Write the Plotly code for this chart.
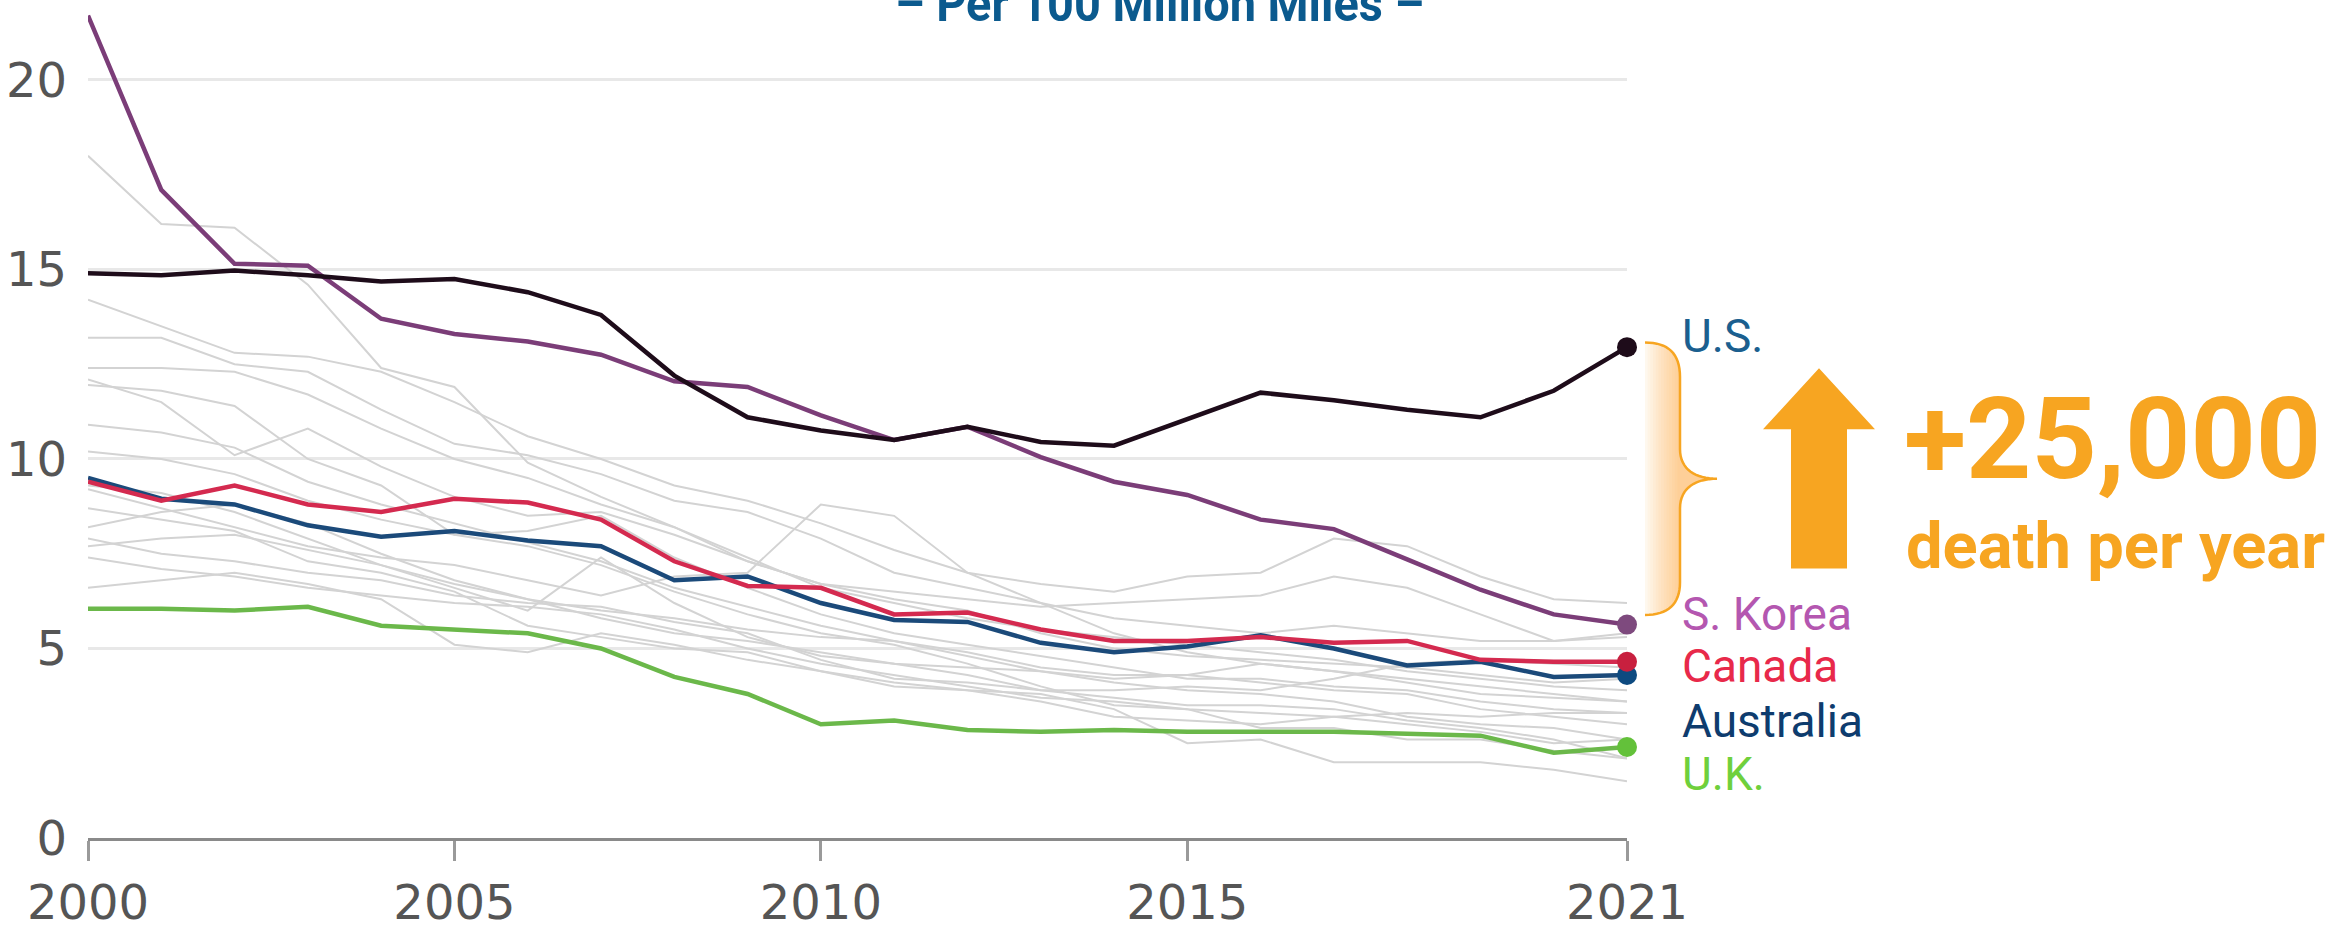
import plotly.graph_objects as go

# ---- data: road deaths per 100 million vehicle miles ----
years = list(range(2000, 2022))

us = [14.9, 14.85, 14.97, 14.85, 14.68, 14.75, 14.4, 13.8, 12.2, 11.1, 10.75,
      10.5, 10.85, 10.45, 10.35, 11.05, 11.75, 11.55, 11.3, 11.1, 11.8, 12.95]
s_korea = [21.7, 17.1, 15.15, 15.1, 13.7, 13.3, 13.1, 12.75, 12.05, 11.9, 11.15,
           10.5, 10.85, 10.05, 9.4, 9.05, 8.4, 8.15, 7.35, 6.55, 5.9, 5.63]
canada = [9.4, 8.9, 9.3, 8.8, 8.6, 8.95, 8.85, 8.4, 7.3, 6.65, 6.6,
          5.9, 5.95, 5.5, 5.2, 5.2, 5.3, 5.15, 5.2, 4.7, 4.65, 4.65]
australia = [9.5, 8.95, 8.8, 8.25, 7.95, 8.1, 7.85, 7.7, 6.8, 6.9, 6.2,
             5.75, 5.7, 5.15, 4.9, 5.05, 5.35, 5.0, 4.55, 4.65, 4.25, 4.3]
uk = [6.05, 6.05, 6.0, 6.1, 5.6, 5.5, 5.4, 5.0, 4.25, 3.8, 3.0,
      3.1, 2.85, 2.8, 2.85, 2.8, 2.8, 2.8, 2.75, 2.7, 2.25, 2.4]

# other comparison countries (background)
others = [
    [18.0, 16.2, 16.1, 14.6, 12.4, 11.9, 9.9, 9.0, 8.2, 7.4, 6.6, 6.2, 5.8, 5.5, 5.3, 5.1, 4.9, 4.7, 4.4, 4.2, 4.0, 3.9],
    [14.2, 13.5, 12.8, 12.7, 12.3, 11.5, 10.6, 10.0, 9.3, 8.9, 8.3, 7.6, 7.0, 6.7, 6.5, 6.9, 7.0, 7.9, 7.7, 6.9, 6.3, 6.2],
    [13.2, 13.2, 12.5, 12.3, 11.3, 10.4, 10.1, 9.6, 8.9, 8.6, 7.9, 7.0, 6.6, 6.2, 5.8, 5.6, 5.4, 5.6, 5.4, 5.2, 5.2, 5.3],
    [12.4, 12.4, 12.3, 11.7, 10.8, 10.0, 9.5, 8.8, 8.2, 7.3, 6.7, 6.3, 6.0, 5.4, 5.0, 4.8, 4.7, 4.6, 4.5, 4.3, 4.1, 4.2],
    [11.95, 11.8, 11.4, 10.0, 9.3, 8.0, 8.1, 8.5, 7.4, 6.6, 5.9, 5.4, 5.1, 4.8, 4.5, 4.2, 4.2, 4.0, 3.9, 3.6, 3.4, 3.3],
    [10.9, 10.7, 10.3, 9.4, 8.8, 8.3, 7.8, 7.3, 6.6, 6.1, 5.6, 5.2, 4.8, 4.4, 4.1, 3.9, 3.8, 3.6, 3.2, 3.0, 2.9, 2.6],
    [9.2, 8.7, 8.2, 7.7, 7.4, 7.2, 6.8, 6.4, 6.9, 7.0, 8.8, 8.5, 7.0, 6.2, 5.4, 4.9, 4.6, 4.4, 4.1, 3.8, 3.7, 3.6],
    [8.2, 8.6, 8.8, 8.3, 7.5, 6.8, 6.3, 6.0, 5.8, 5.5, 5.3, 5.2, 4.9, 4.5, 4.3, 4.3, 4.1, 3.9, 3.8, 3.4, 3.2, 3.0],
    [7.7, 7.9, 8.0, 7.6, 7.2, 6.6, 6.0, 7.4, 6.2, 5.3, 4.8, 4.6, 4.3, 3.9, 3.7, 3.5, 3.5, 3.4, 3.1, 2.9, 2.6, 2.1],
    [7.4, 7.1, 6.9, 6.6, 6.4, 6.2, 6.1, 5.9, 5.5, 5.0, 4.6, 4.3, 4.0, 3.7, 3.6, 3.4, 3.3, 3.2, 3.0, 2.8, 2.5, 2.6],
    [6.6, 6.8, 7.0, 6.7, 6.3, 5.1, 4.9, 5.4, 5.1, 4.7, 4.4, 4.1, 3.9, 3.8, 3.4, 2.5, 2.6, 2.0, 2.0, 2.0, 1.8, 1.5],
    [9.3, 9.1, 8.6, 7.9, 7.2, 6.7, 6.3, 5.8, 5.4, 5.2, 4.9, 4.6, 4.5, 4.4, 4.2, 4.3, 4.6, 4.4, 4.2, 4.0, 3.8, 3.6],
    [10.2, 10.0, 9.6, 8.9, 8.4, 8.0, 7.7, 7.2, 6.5, 5.9, 5.4, 5.1, 4.6, 4.0, 3.5, 3.4, 2.9, 2.9, 2.6, 2.6, 2.3, 2.1],
    [8.7, 8.4, 8.1, 7.3, 7.0, 6.5, 5.6, 5.3, 5.0, 4.9, 4.4, 4.0, 3.9, 3.6, 3.2, 3.1, 3.0, 3.2, 3.3, 3.2, 3.3, 3.3],
    [7.9, 7.5, 7.3, 7.0, 6.8, 6.4, 6.2, 6.1, 5.7, 5.4, 4.7, 4.2, 4.1, 3.9, 3.9, 4.0, 3.9, 4.2, 4.6, 4.7, 4.6, 4.5],
    [12.1, 11.5, 10.1, 10.8, 9.8, 9.0, 8.5, 8.6, 8.0, 7.3, 6.7, 6.5, 6.3, 6.1, 6.2, 6.3, 6.4, 6.9, 6.6, 5.9, 5.2, 5.4],
]

x_ticks = [2000, 2005, 2010, 2015, 2021]
y_ticks = [0, 5, 10, 15, 20]

title_text = "– Per 100 Million Miles –"
callout_value = "+25,000"
callout_caption = "death per year"

# highlighted series: (name, values, line colour, marker colour, label colour)
highlight = [
    ("U.K.", uk, "#6bb84a", "#63c13a", "#6fd03c"),
    ("Australia", australia, "#1b4a7a", "#0d4a80", "#0e3c6e"),
    ("Canada", canada, "#d42a4f", "#c8203f", "#e8294a"),
    ("S. Korea", s_korea, "#7b3d78", "#7e4a7e", "#b457b0"),
    ("U.S.", us, "#1e0c1a", "#1e0c1a", "#1b5f8f"),
]

# ---- geometry (pixels) ----
W, H = 2330, 930
L, R, T, B = 88, 703, 0, 81
PW, PH = W - L - R, H - T - B
Y_MAX = PH / 38.4


def px(x):
    return (x - L) / PW


def py(y):
    return (H - B - y) / PH


fig = go.Figure()

for vals in others:
    fig.add_trace(go.Scatter(x=years, y=vals, mode="lines",
                             line=dict(color="#d3d3d3", width=2),
                             hoverinfo="skip", showlegend=False))

for name, vals, lc, mc, _ in highlight:
    fig.add_trace(go.Scatter(x=years, y=vals, mode="lines", name=name,
                             line=dict(color=lc, width=4.5),
                             showlegend=False))
for name, vals, lc, mc, _ in highlight:
    fig.add_trace(go.Scatter(x=[years[-1]], y=[vals[-1]], mode="markers",
                             marker=dict(color=mc, size=20),
                             cliponaxis=False, showlegend=False,
                             hoverinfo="skip"))

# ---- brace with soft gradient fill ----
def cubic(p0, p1, p2, p3, n=16):
    pts = []
    for i in range(n + 1):
        t = i / n
        a, b, c, d = (1 - t) ** 3, 3 * (1 - t) ** 2 * t, 3 * (1 - t) * t ** 2, t ** 3
        pts.append((a * p0[0] + b * p1[0] + c * p2[0] + d * p3[0],
                    a * p0[1] + b * p1[1] + c * p2[1] + d * p3[1]))
    return pts


brace = []
brace += cubic((1645, 347), (1668, 347), (1680, 358), (1680, 382))
brace += [(1680, 455)]
brace += cubic((1680, 455), (1680, 476), (1696, 485), (1717, 485))
brace += cubic((1717, 485), (1696, 485), (1680, 494), (1680, 515))
brace += [(1680, 590)]
brace += cubic((1680, 590), (1680, 612), (1668, 623), (1645, 623))


def poly_path(pts, close=True):
    s = "M " + " L ".join(f"{px(x):.5f},{py(y):.5f}" for x, y in pts)
    return s + (" Z" if close else "")


shapes = []
fill_layers = [(1645, 0.08)] + [(1645 + 35 * (i + 1) / 13, 0.04) for i in range(12)]
for x0, alpha in fill_layers:
    pts = [(max(x, x0), y) for x, y in brace]
    pts = [(x0, brace[0][1])] + pts + [(x0, brace[-1][1])]
    shapes.append(dict(type="path", xref="paper", yref="paper",
                       path=poly_path(pts),
                       fillcolor=f"rgba(247,165,33,{alpha})",
                       line=dict(width=0), layer="below"))

shapes.append(dict(type="path", xref="paper", yref="paper",
                   path=poly_path(brace, close=False),
                   line=dict(color="#f7a521", width=2.5)))

# ---- upward arrow ----
arrow = [(1819, 373), (1875, 435), (1847, 435), (1847, 576),
         (1791, 576), (1791, 435), (1763, 435)]
shapes.append(dict(type="path", xref="paper", yref="paper",
                   path=poly_path(arrow), fillcolor="#f7a521",
                   line=dict(width=0)))

# ---- annotations ----
ann = []
label_y = {"U.S.": 340, "S. Korea": 622, "Canada": 675,
           "Australia": 730, "U.K.": 784}
for name, vals, lc, mc, tc in highlight:
    ann.append(dict(xref="paper", yref="paper", x=px(1680), y=py(label_y[name]),
                    xanchor="left", yanchor="middle", showarrow=False,
                    text=name, font=dict(family="Roboto", size=46, color=tc)))

# headline texts: (text, left x, centre y, size, colour, fitted width or None)
headline = [
    (callout_value, 1903, 445, 114, "#f7a521", None),
    (callout_caption, 1905, 554, 64, "#f7a521", 419),
    (title_text, 894, 4, 50, "#0b5a8e", 529),
]
for txt, x0, yc, size, col, _ in headline:
    ann.append(dict(xref="paper", yref="paper", x=px(x0), y=py(yc),
                    xanchor="left", yanchor="middle", align="left",
                    showarrow=False, borderpad=0,
                    text=f"<b>{txt}</b>",
                    font=dict(family="Roboto", size=size, color=col)))

tick_font = dict(family="DejaVu Sans", size=48, color="#555555")

fig.update_layout(
    width=W, height=H,
    margin=dict(l=L, r=R, t=T, b=B, pad=0),
    paper_bgcolor="white", plot_bgcolor="white",
    shapes=shapes, annotations=ann,
    showlegend=False,
    xaxis=dict(range=[2000, 2021], tickmode="array", tickvals=x_ticks,
               ticktext=[str(v) for v in x_ticks],
               ticks="outside", ticklen=20, tickwidth=3, tickcolor="#9a9a9a",
               showline=True, linecolor="#8a8a8a", linewidth=3,
               showgrid=False, zeroline=False, tickfont=tick_font),
    yaxis=dict(range=[0, Y_MAX], tickmode="array", tickvals=y_ticks,
               ticktext=[str(v) for v in y_ticks],
               showgrid=True, gridcolor="#e8e8e8", gridwidth=3,
               zeroline=False, ticks="", ticklabelstandoff=20,
               tickfont=tick_font),
)

# fit the headline texts to their set widths (and their boxes with them)
fit_widths = {txt: w for txt, _, _, _, _, w in headline if w}
js_map = ", ".join(f'"{k}": {v}' for k, v in fit_widths.items())
post_js = """
var gd = document.getElementById('{plot_id}');
var widths = {%s};
gd.querySelectorAll('g.annotation').forEach(function (g) {
  var t = g.querySelector('text.annotation-text');
  if (!t) return;
  var w = widths[t.textContent];
  if (w) {
    t.setAttribute('textLength', w);
    t.setAttribute('lengthAdjust', 'spacingAndGlyphs');
    g.querySelectorAll('rect').forEach(function (r) {
      r.setAttribute('width', w);
    });
  }
});
""" % js_map

fig.write_html("out.html", post_script=post_js)
